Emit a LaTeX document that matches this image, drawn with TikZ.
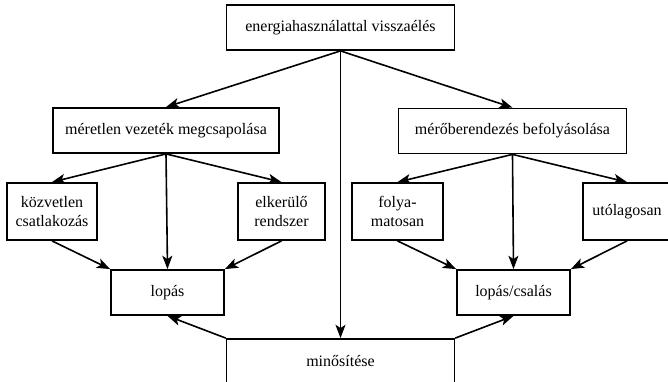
\documentclass[tikz,border=0pt]{standalone}
\usepackage{fontspec}
\setmainfont{Liberation Serif}
\usetikzlibrary{%
    arrows.meta,
    positioning,
    calc
}

\begin{document}
\begin{tikzpicture}[
      x=0.75pt, y=-0.75pt,
      font=\fontsize{12}{14}\selectfont,
      elem/.style={rectangle, draw, line width=1.1pt, align=center,
                   inner sep=0pt},
      wide/.style={minimum width=171pt, minimum height=34pt},
      small/.style={minimum height=43pt},
      arr/.style={-{Stealth[length=10pt, width=7.5pt, inset=2.5pt]},
                  line width=1.2pt}
    ]
      \useasboundingbox (0, 0) rectangle (668, 382);

      \node[elem, wide] (abuse) at (340.5, 27.5)
        {energiahasználattal visszaélés};

      \node[elem, minimum width=169.5pt, minimum height=34pt]
        (tapping) at (166, 130.5) {méretlen vezeték megcsapolása};
      \node[elem, wide] (meter) at (512.5, 131)
        {mérőberendezés befolyásolása};

      \node[elem, small, minimum width=67.5pt]
        (direct) at (52, 211.5) {közvetlen\\csatlakozás};
      \node[elem, small, minimum width=65pt]
        (bypass) at (281.5, 211.5) {elkerülő\\rendszer};
      \node[elem, small, minimum width=68pt]
        (continuous) at (397.5, 211.5) {folya-\\matosan};
      \node[elem, small, minimum width=66pt]
        (afterwards) at (627, 211.5) {utólagosan};

      \node[elem, minimum width=85pt, minimum height=34pt]
        (theft) at (167.5, 292.5) {lopás};
      \node[elem, minimum width=85pt, minimum height=34pt]
        (fraud) at (513.5, 292.5) {lopás/csalás};

      \node[elem, wide] (rating) at (340.5, 361.5) {minősítése};


      \draw[arr] (abuse.south) -- (tapping.north);
      \draw[arr] (abuse.south) -- (meter.north);
      \draw[arr] (abuse.south) -- (rating.north);

      \draw[arr] (tapping.south) -- (direct.north);
      \draw[arr] (tapping.south) -- (bypass.north);
      \draw[arr] (tapping.south) -- (theft.north);
      \draw[arr] (direct.south) -- (theft.north west);
      \draw[arr] (bypass.south) -- (theft.north east);

      \draw[arr] (meter.south) -- (continuous.north);
      \draw[arr] (meter.south) -- (afterwards.north);
      \draw[arr] (meter.south) -- (fraud.north);
      \draw[arr] (continuous.south) -- (fraud.north west);
      \draw[arr] (afterwards.south) -- (fraud.north east);

      \draw[arr] (rating.north west) -- (theft.south);
      \draw[arr] (rating.north east) -- (fraud.south);
    \end{tikzpicture}
\end{document}
